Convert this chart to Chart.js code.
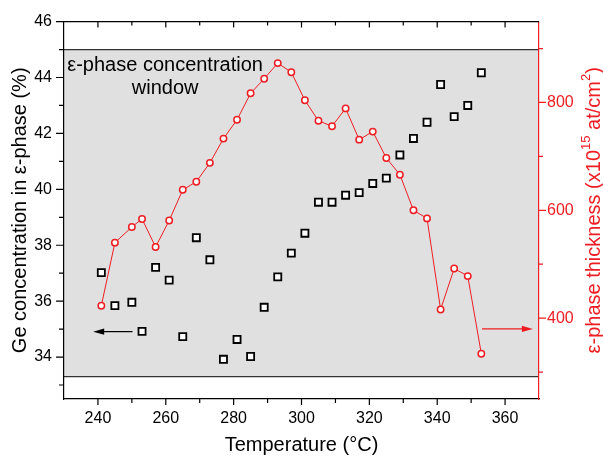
<!DOCTYPE html>
<html>
<head>
<meta charset="utf-8">
<script src="https://cdn.jsdelivr.net/npm/chart.js@4.4.1/dist/chart.umd.min.js"></script>
<style>
  html, body { margin: 0; padding: 0; background: #fff; }
  #wrap { width: 603px; height: 457px; position: relative; }
</style>
</head>
<body>
<div id="wrap"><canvas id="chart"></canvas></div>
<script>
// data
const temps = [241, 245, 250, 253, 257, 261, 265, 269, 273, 277, 281, 285, 289, 293, 297,
  301, 305, 309, 313, 317, 321, 325, 329, 333, 337, 341, 345, 349, 353];
const geConc = [37.02, 35.84, 35.96, 34.92, 37.21, 36.75, 34.73, 38.27, 37.48, 33.92, 34.63, 34.02, 35.78, 36.87, 37.72,
  38.43, 39.54, 39.54, 39.79, 39.88, 40.21, 40.40, 41.23, 41.82, 42.40, 43.75, 42.60, 43.00, 44.17];
const thickness = [423, 540, 569, 584, 532, 581, 638, 653, 688, 733, 768, 817, 844, 873, 856,
  804, 766, 756, 789, 731, 746, 697, 666, 600, 585, 416, 492, 478, 334];

// concentration window (left axis units)
const windowLow = 33.3;
const windowHigh = 45;

// axis ticks
const xTicks = [240, 260, 280, 300, 320, 340, 360];
const xMinor = [250, 270, 290, 310, 330, 350];
const yTicks = [34, 36, 38, 40, 42, 44, 46];
const yMinor = [33, 35, 37, 39, 41, 43, 45];
const y2Ticks = [400, 600, 800];
const y2Minor = [300, 500, 700, 900];

// arrows pointing to each series' axis: [fromT, toT, value]
const leftArrow = [250.2, 238.6, 34.91];
const rightArrow = [353.2, 368.2, 380];

// annotation anchor [T, %]
const windowLabel = ['ε-phase concentration', 'window'];
const windowLabelAt = [259.8, 44.44];

const FONT = "Arial, 'Liberation Sans', Helvetica, sans-serif";
const RED = '#ee1d23';
Chart.defaults.font.family = FONT;

function marks(ctx, list, fn) {
  ctx.beginPath();
  list.forEach(v => fn(v));
  ctx.stroke();
}

function arrow(ctx, x1, x2, y, color) {
  const dir = Math.sign(x2 - x1);
  ctx.strokeStyle = color; ctx.fillStyle = color; ctx.lineWidth = 1.2;
  ctx.beginPath(); ctx.moveTo(x1, y); ctx.lineTo(x2 - dir * 8, y); ctx.stroke();
  ctx.beginPath();
  ctx.moveTo(x2, y);
  ctx.lineTo(x2 - dir * 11, y - 3.2);
  ctx.lineTo(x2 - dir * 11, y + 3.2);
  ctx.closePath(); ctx.fill();
}

const decor = {
  id: 'decor',
  beforeDraw(chart) {
    const { ctx, chartArea: a, scales: { y } } = chart;
    const top = y.getPixelForValue(windowHigh), bot = y.getPixelForValue(windowLow);
    ctx.save();
    ctx.fillStyle = '#e0e0e0';
    ctx.fillRect(a.left, top, a.right - a.left, bot - top);
    ctx.strokeStyle = '#333'; ctx.lineWidth = 1.3;
    ctx.beginPath();
    ctx.moveTo(a.left, top); ctx.lineTo(a.right, top);
    ctx.moveTo(a.left, bot); ctx.lineTo(a.right, bot);
    ctx.stroke();
    ctx.restore();
  },
  afterDatasetsDraw(chart) {
    const { ctx, chartArea: a, scales: { x, y, y2 } } = chart;
    ctx.save();
    // top frame line
    ctx.strokeStyle = '#000'; ctx.lineWidth = 1.2;
    ctx.beginPath(); ctx.moveTo(a.left, a.top); ctx.lineTo(a.right, a.top); ctx.stroke();

    // tick marks
    ctx.lineWidth = 1.2;
    marks(ctx, xTicks, v => { const p = x.getPixelForValue(v); ctx.moveTo(p, a.bottom); ctx.lineTo(p, a.bottom + 6); ctx.moveTo(p, a.top); ctx.lineTo(p, a.top + 6); });
    marks(ctx, xMinor, v => { const p = x.getPixelForValue(v); ctx.moveTo(p, a.bottom); ctx.lineTo(p, a.bottom + 4); ctx.moveTo(p, a.top); ctx.lineTo(p, a.top + 4); });
    marks(ctx, yTicks, v => { const p = y.getPixelForValue(v); ctx.moveTo(a.left, p); ctx.lineTo(a.left - 8, p); });
    marks(ctx, yMinor, v => { const p = y.getPixelForValue(v); ctx.moveTo(a.left, p); ctx.lineTo(a.left - 5, p); });
    ctx.strokeStyle = RED;
    marks(ctx, y2Ticks, v => { const p = y2.getPixelForValue(v); ctx.moveTo(a.right, p); ctx.lineTo(a.right + 7, p); });
    marks(ctx, y2Minor, v => { const p = y2.getPixelForValue(v); ctx.moveTo(a.right, p); ctx.lineTo(a.right + 4, p); });

    // arrows
    arrow(ctx, x.getPixelForValue(leftArrow[0]), x.getPixelForValue(leftArrow[1]), y.getPixelForValue(leftArrow[2]), '#000');
    arrow(ctx, x.getPixelForValue(rightArrow[0]), x.getPixelForValue(rightArrow[1]), y2.getPixelForValue(rightArrow[2]), RED);

    // window label
    ctx.fillStyle = '#000';
    ctx.font = '20px ' + FONT;
    ctx.textAlign = 'center'; ctx.textBaseline = 'middle';
    const lx = x.getPixelForValue(windowLabelAt[0]), ly = y.getPixelForValue(windowLabelAt[1]);
    windowLabel.forEach((t, i) => ctx.fillText(t, lx, ly + i * 23.3));

    // right axis title with superscripts
    const parts = [['ε-phase thickness (x10', 20, 0], ['15', 13, -8], [' at/cm', 20, 0], ['2', 13, -8], [')', 20, 0]];
    let total = 0;
    parts.forEach(p => { ctx.font = p[1] + 'px ' + FONT; p.push(ctx.measureText(p[0]).width); total += p[3]; });
    ctx.translate(chart.width - 9, (a.top + a.bottom) / 2);
    ctx.rotate(-Math.PI / 2);
    ctx.fillStyle = RED; ctx.textAlign = 'left'; ctx.textBaseline = 'middle';
    let cx = -total / 2;
    parts.forEach(p => { ctx.font = p[1] + 'px ' + FONT; ctx.fillText(p[0], cx, p[2]); cx += p[3]; });
    ctx.restore();
  }
};

new Chart(document.getElementById('chart'), {
  type: 'scatter',
  data: {
    datasets: [
      {
        label: 'thickness',
        data: temps.map((t, i) => ({ x: t, y: thickness[i] })),
        yAxisID: 'y2',
        showLine: true,
        borderColor: RED,
        borderWidth: 1,
        pointRadius: 3.2,
        pointBorderWidth: 1.5,
        pointBorderColor: RED,
        pointBackgroundColor: '#fff'
      },
      {
        label: 'Ge concentration',
        data: temps.map((t, i) => ({ x: t, y: geConc[i] })),
        yAxisID: 'y',
        showLine: false,
        pointStyle: 'rect',
        pointRadius: 5,
        pointBorderWidth: 1.8,
        pointBorderColor: '#000',
        pointBackgroundColor: '#fff'
      }
    ]
  },
  options: {
    responsive: true,
    maintainAspectRatio: false,
    devicePixelRatio: 1,
    animation: false,
    layout: { padding: { top: 18, left: 0, right: 0, bottom: 0 } },
    plugins: { legend: { display: false }, tooltip: { enabled: false } },
    scales: {
      x: {
        type: 'linear', position: 'bottom', min: 230, max: 370,
        afterBuildTicks: s => { s.ticks = xTicks.map(v => ({ value: v })); },
        afterFit: s => { s.height = 58; },
        grid: { display: false, drawTicks: false },
        border: { display: true, color: '#000', width: 1.2 },
        ticks: { color: '#000', font: { size: 16 }, padding: 10, maxRotation: 0 },
        title: { display: true, text: 'Temperature (°C)', color: '#000', font: { size: 20 }, padding: { top: 0, bottom: 0 } }
      },
      y: {
        type: 'linear', position: 'left', min: 32.5, max: 46,
        afterBuildTicks: s => { s.ticks = yTicks.map(v => ({ value: v })); },
        afterFit: s => { s.width = 64; },
        grid: { display: false, drawTicks: false },
        border: { display: true, color: '#000', width: 1.2 },
        ticks: { color: '#000', font: { size: 16 }, padding: 12 },
        title: { display: true, text: 'Ge concentration in ε-phase (%)', color: '#000', font: { size: 20 }, padding: { top: 8, bottom: 0 } }
      },
      y2: {
        type: 'linear', position: 'right', min: 250, max: 950,
        afterBuildTicks: s => { s.ticks = y2Ticks.map(v => ({ value: v })); },
        afterFit: s => { s.width = 64; },
        grid: { display: false, drawTicks: false },
        border: { display: true, color: RED, width: 1.2 },
        ticks: { color: RED, font: { size: 16 }, padding: 8 }
      }
    }
  },
  plugins: [decor]
});
</script>
</body>
</html>
